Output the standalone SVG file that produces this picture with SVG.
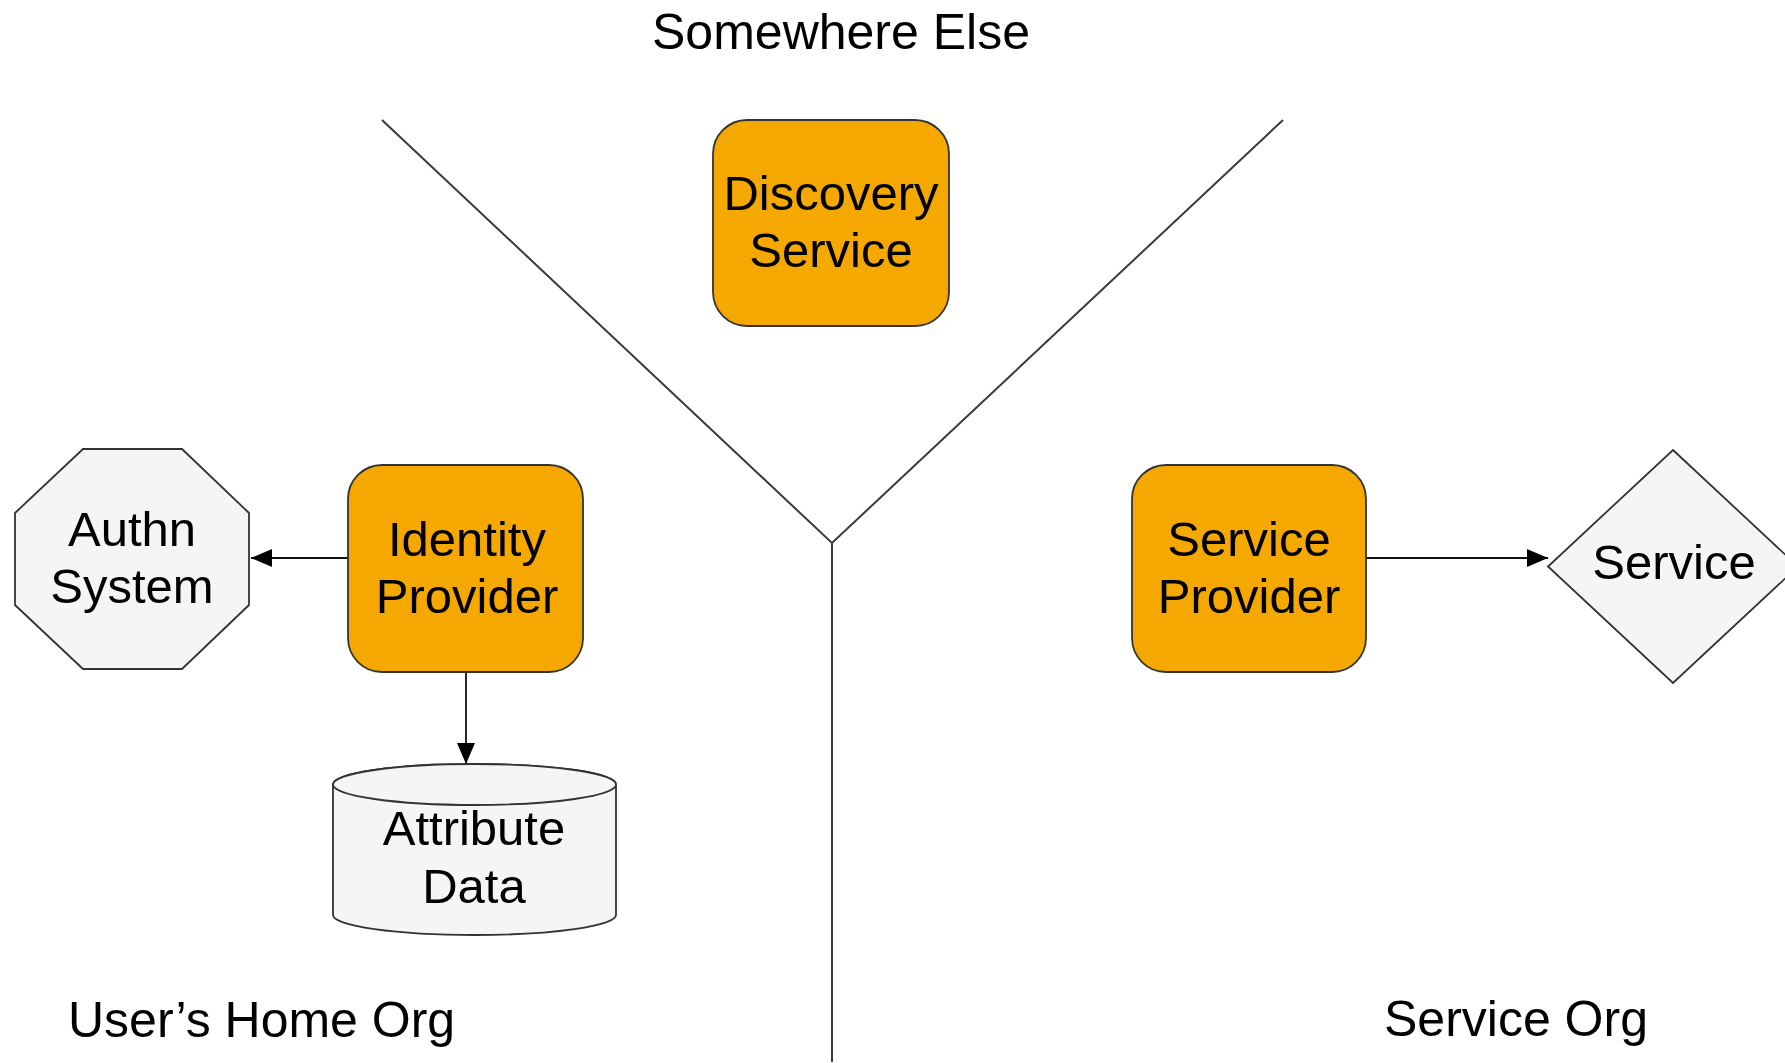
<svg xmlns="http://www.w3.org/2000/svg" width="1785" height="1063" viewBox="0 0 1785 1063">
<style>
text{font-family:"Liberation Sans",Arial,sans-serif;font-size:49px;fill:#000;text-anchor:middle}
.lbl{text-anchor:start;font-size:50px}
.ttl{font-size:50px}
.org{fill:#F5A800;stroke:#333;stroke-width:1.8}
.gray{fill:#F4F5F7;stroke:#333;stroke-width:1.8}
.div{fill:none;stroke:#3a3a3a;stroke-width:2}
.edge{fill:none;stroke:#111;stroke-width:1.8}
</style>
<defs>
<marker id="arr" markerUnits="userSpaceOnUse" markerWidth="22" markerHeight="18" refX="21" refY="9" orient="auto">
<path d="M0,0 L21,9 L0,18 Z" fill="#000"/>
</marker>
</defs>
<rect width="1785" height="1063" fill="#fff"/>
<g id="dividers">
<path class="div" d="M382,120 L832,543 L1283,120"/>
<path class="div" d="M832,543 L832,1062"/>
</g>
<g id="region-labels">
<text class="ttl" x="841" y="49">Somewhere Else</text>
<text class="lbl" x="68" y="1037">User’s Home Org</text>
<text class="lbl" x="1384" y="1036">Service Org</text>
</g>
<g id="connectors">
<path class="edge" d="M348,558 L251,558" marker-end="url(#arr)"/>
<path class="edge" d="M466,672 L466,764" marker-end="url(#arr)"/>
<path class="edge" d="M1366,558 L1548,558" marker-end="url(#arr)"/>
</g>
<g id="discovery-service">
<rect class="org" x="713" y="120" width="236" height="206" rx="34"/>
<text x="831" y="210">Discovery</text>
<text x="831" y="267">Service</text>
</g>
<g id="identity-provider">
<rect class="org" x="348" y="465" width="235" height="207" rx="34"/>
<text x="467" y="556">Identity</text>
<text x="467" y="613">Provider</text>
</g>
<g id="service-provider">
<rect class="org" x="1132" y="465" width="234" height="207" rx="34"/>
<text x="1249" y="556">Service</text>
<text x="1249" y="613">Provider</text>
</g>
<g id="authn-system">
<polygon class="gray" points="83,449 182,449 249,513 249,605 182,669 83,669 15,605 15,513"/>
<text x="132" y="546">Authn</text>
<text x="132" y="603">System</text>
</g>
<g id="attribute-data">
<path class="gray" d="M333,784.5 L333,915 A141.5,20 0 0 0 616,915 L616,784.5 A141.5,20.5 0 0 0 333,784.5 Z"/>
<ellipse class="gray" cx="474.5" cy="784.5" rx="141.5" ry="20.5"/>
<text x="474" y="845">Attribute</text>
<text x="474" y="903">Data</text>
</g>
<g id="service">
<polygon class="gray" points="1673,450 1798,566.5 1673,683 1548,566.5"/>
<text x="1674" y="579">Service</text>
</g>
</svg>
